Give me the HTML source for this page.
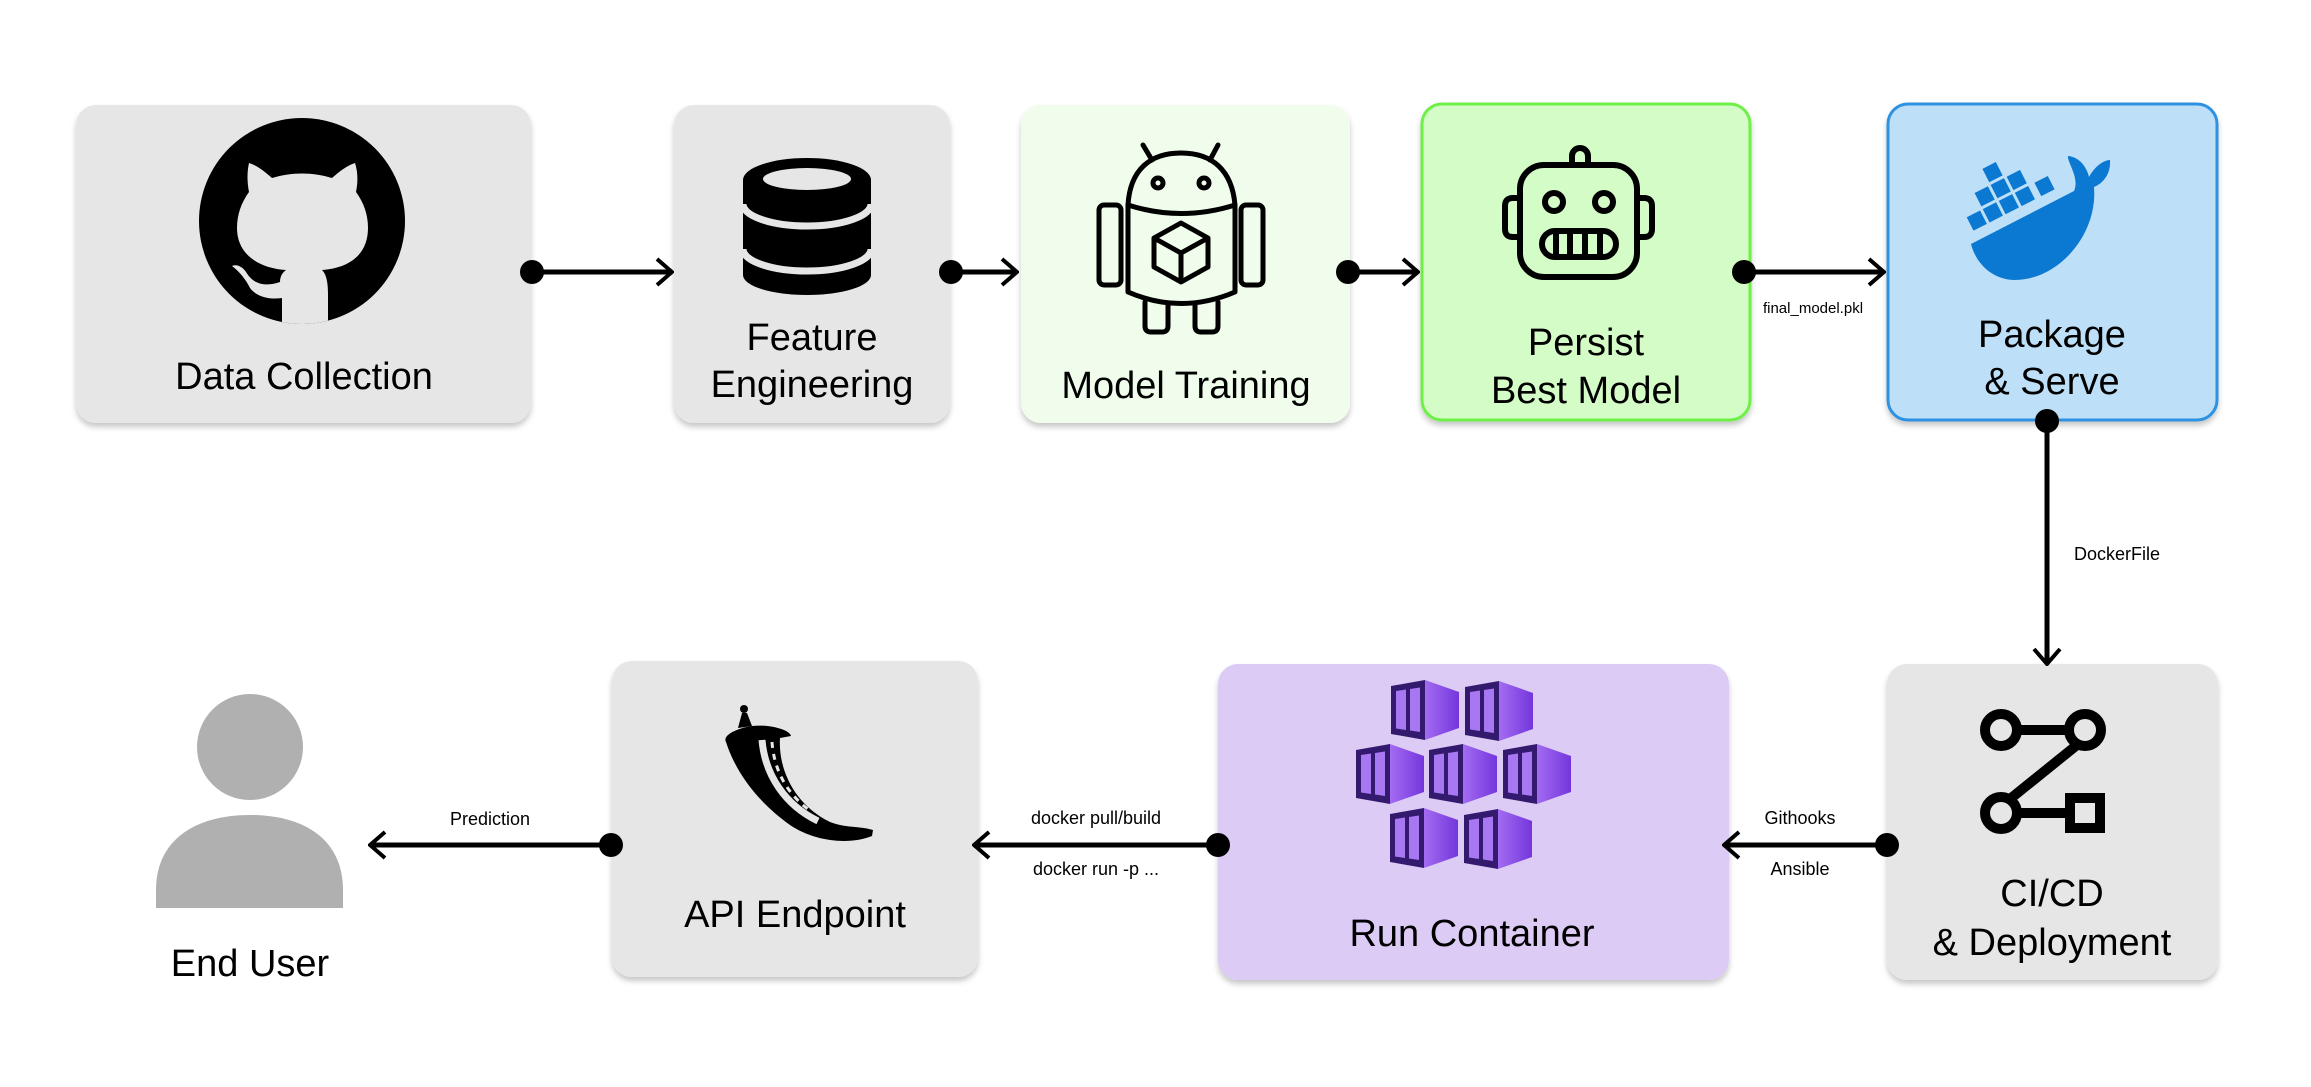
<!DOCTYPE html>
<html><head><meta charset="utf-8"><style>
html,body{margin:0;padding:0;background:#fff;}
svg{display:block;}
text{font-family:"Liberation Sans",sans-serif;}
</style></head><body>
<svg width="2311" height="1087" viewBox="0 0 2311 1087" xmlns="http://www.w3.org/2000/svg">
<defs>
<filter id="sh" x="-10%" y="-10%" width="120%" height="130%"><feDropShadow dx="0" dy="4" stdDeviation="3" flood-color="#000" flood-opacity="0.22"/></filter>
<linearGradient id="cg" x1="0" x2="1" y1="0" y2="0"><stop offset="0" stop-color="#a36cf2"/><stop offset="1" stop-color="#7436dc"/></linearGradient>
<clipPath id="ghc"><circle cx="302" cy="221" r="103"/></clipPath>
<g id="cube">
<polygon points="34,0 68,12 68,48 34,60" fill="url(#cg)"/>
<polygon points="0,6 34,0 34,60 0,54" fill="#341a6e"/>
<polygon points="5,11 15,9.5 15,50 5,48.5" fill="#a878f2"/>
<polygon points="19,9 29,7.5 29,52 19,50.5" fill="#a878f2"/>
</g>
<marker id="ah" viewBox="0 0 20 30" refX="18" refY="15" markerWidth="20" markerHeight="30" markerUnits="userSpaceOnUse" orient="auto"><path d="M3,2 L18,15 L3,28" fill="none" stroke="#000" stroke-width="4"/></marker>
</defs>

<!-- Boxes -->
<rect x="76" y="105" width="455" height="318" rx="20" fill="#e6e6e6" filter="url(#sh)"/>
<rect x="674" y="105" width="276" height="318" rx="20" fill="#e6e6e6" filter="url(#sh)"/>
<rect x="1021" y="105" width="329" height="318" rx="20" fill="#f1fdec" filter="url(#sh)"/>
<rect x="1422" y="104" width="328" height="316" rx="20" fill="#d4fcc6" stroke="#6ef048" stroke-width="3" filter="url(#sh)"/>
<rect x="1888" y="104" width="329" height="316" rx="20" fill="#bde0f8" stroke="#2f92e2" stroke-width="3" filter="url(#sh)"/>
<rect x="612" y="661" width="366" height="316" rx="20" fill="#e6e6e6" filter="url(#sh)"/>
<rect x="1218" y="664" width="511" height="316" rx="20" fill="#dccbf5" filter="url(#sh)"/>
<rect x="1887" y="664" width="331" height="316" rx="20" fill="#e6e6e6" filter="url(#sh)"/>

<!-- Labels -->
<g font-size="38" fill="#000" text-anchor="middle">
<text x="304" y="389">Data Collection</text>
<text x="812" y="350">Feature</text>
<text x="812" y="397">Engineering</text>
<text x="1186" y="398">Model Training</text>
<text x="1586" y="355">Persist</text>
<text x="1586" y="403">Best Model</text>
<text x="2052" y="347">Package</text>
<text x="2052" y="394">&amp; Serve</text>
<text x="250" y="976">End User</text>
<text x="795" y="927">API Endpoint</text>
<text x="1472" y="946">Run Container</text>
<text x="2052" y="906">CI/CD</text>
<text x="2052" y="955">&amp; Deployment</text>
</g>
<g font-size="18" fill="#000" text-anchor="middle">
<text x="1813" y="313" font-size="15">final_model.pkl</text>
<text x="2117" y="560">DockerFile</text>
<text x="1800" y="824">Githooks</text>
<text x="1800" y="875">Ansible</text>
<text x="1096" y="824">docker pull/build</text>
<text x="1096" y="875">docker run -p ...</text>
<text x="490" y="825">Prediction</text>
</g>

<!-- Connectors -->
<g stroke="#000" stroke-width="5" fill="none">
<line x1="530" y1="272" x2="672" y2="272" marker-end="url(#ah)"/>
<line x1="951" y1="272" x2="1017" y2="272" marker-end="url(#ah)"/>
<line x1="1345" y1="272" x2="1418" y2="272" marker-end="url(#ah)"/>
<line x1="1742" y1="272" x2="1884" y2="272" marker-end="url(#ah)"/>
<line x1="2047" y1="420" x2="2047" y2="664" marker-end="url(#ah)"/>
<line x1="1882" y1="845" x2="1724" y2="845" marker-end="url(#ah)"/>
<line x1="1220" y1="845" x2="974" y2="845" marker-end="url(#ah)"/>
<line x1="610" y1="845" x2="370" y2="845" marker-end="url(#ah)"/>
</g>
<g fill="#000">
<circle cx="532" cy="272" r="12"/>
<circle cx="951" cy="272" r="12"/>
<circle cx="1348" cy="272" r="12"/>
<circle cx="1744" cy="272" r="12"/>
<circle cx="2047" cy="421" r="12"/>
<circle cx="1887" cy="845" r="12"/>
<circle cx="1218" cy="845" r="12"/>
<circle cx="611" cy="845" r="12"/>
</g>

<!-- GitHub -->
<circle cx="302" cy="221" r="103" fill="#000"/>
<g clip-path="url(#ghc)" fill="#e6e6e6">
<path d="M249,163 C258,166 265,172 272,178 C292,172 312,172 332,178 C339,172 346,166 355,163 C358,172 358,182 356,192 C364,203 368,215 368,228 C368,254 350,268 322,270 C327,275 328,284 328,295 L328,326 L282,326 L282,298 C268,300 256,296 250,288 C246,280 240,272 232,266 C236,264 242,266 246,272 C252,282 262,288 280,282 C280,276 283,272 286,270 C258,268 237,254 237,228 C237,215 241,203 249,192 C247,182 247,172 249,163 Z"/>
</g>

<!-- Database -->
<g fill="#000">
<ellipse cx="807" cy="180" rx="64" ry="22"/>
<rect x="743" y="180" width="128" height="95"/>
<ellipse cx="807" cy="275" rx="64" ry="20"/>
</g>
<path d="M743,204 A64,22 0 0 0 871,204" stroke="#e6e6e6" stroke-width="7" fill="none"/>
<path d="M743,249 A64,22 0 0 0 871,249" stroke="#e6e6e6" stroke-width="7" fill="none"/>
<ellipse cx="807" cy="179" rx="44" ry="11" fill="#e6e6e6"/>

<!-- Android -->
<g fill="none" stroke="#000" stroke-width="5" stroke-linejoin="round" stroke-linecap="round">
<path d="M1128,205 C1130,170 1150,153 1181,153 C1212,153 1232,170 1235,205"/>
<line x1="1143" y1="145" x2="1152" y2="160"/><line x1="1218" y1="145" x2="1210" y2="160"/>
<path d="M1128,205 Q1181,222 1235,205 L1235,292 Q1181,315 1128,292 Z"/>
<rect x="1099" y="205" width="22" height="80" rx="5"/>
<rect x="1241" y="205" width="22" height="80" rx="5"/>
<path d="M1145,302 L1145,326 Q1145,332 1151,332 L1162,332 Q1168,332 1168,326 L1168,305"/>
<path d="M1195,305 L1195,326 Q1195,332 1201,332 L1212,332 Q1218,332 1218,326 L1218,302"/>
<circle cx="1158" cy="183" r="5"/><circle cx="1204" cy="183" r="5"/>
<path d="M1181,223 L1208,238 L1208,267 L1181,282 L1154,267 L1154,238 Z M1154,238 L1181,253 L1208,238 M1181,253 L1181,282"/>
</g>

<!-- Robot -->
<g fill="none" stroke="#000" stroke-width="6">
<rect x="1520" y="165" width="117" height="112" rx="24"/>
<path d="M1572,165 L1572,156 A8,8 0 0 1 1588,156 L1588,165"/>
<circle cx="1554" cy="202" r="9"/><circle cx="1604" cy="202" r="9"/>
<rect x="1542" y="231" width="74" height="26" rx="13"/>
<path d="M1556,231 V257 M1570,231 V257 M1585,231 V257 M1600,231 V257"/>
<path d="M1520,198 L1513,198 Q1505,198 1505,206 L1505,229 Q1505,237 1513,237 L1520,237"/>
<path d="M1637,198 L1644,198 Q1652,198 1652,206 L1652,229 Q1652,237 1644,237 L1637,237"/>
</g>

<!-- Docker -->
<g fill="#0b78d2">
<path d="M1971,244 L2074,191 C2080,178 2067,162 2068,156 C2080,157 2087,168 2089,177 C2095,166 2104,160 2110,160 C2111,175 2102,184 2094,187 C2098,235 2058,280 2015,280 C1993,280 1976,264 1971,244 Z"/>
<g transform="translate(1974,236) rotate(-27)">
<rect x="2" y="-20" width="15" height="15"/><rect x="20" y="-20" width="15" height="15"/><rect x="38" y="-20" width="15" height="15"/><rect x="56" y="-20" width="15" height="15"/><rect x="78" y="-20" width="15" height="15"/>
<rect x="20" y="-38" width="15" height="15"/><rect x="38" y="-38" width="15" height="15"/><rect x="56" y="-38" width="15" height="15"/>
<rect x="38" y="-56" width="15" height="15"/>
</g>
</g>

<!-- Flask horn -->
<g>
<path d="M726,742 C722,735 738,728 752,726 C770,724 790,730 791,736 L780,738 C778,770 795,805 830,822 C845,828 860,826 873,830 L872,836 C850,845 815,842 790,825 C755,800 735,770 726,742 Z" fill="#000"/>
<path d="M762,740 C765,775 785,805 818,821" stroke="#e6e6e6" stroke-width="7" fill="none"/>
<path d="M772,742 C774,770 787,795 812,812" stroke="#e6e6e6" stroke-width="3" fill="none" stroke-dasharray="6 6"/>
<path d="M738,728 L742,713 L747,713 L752,726 Z" fill="#000"/>
<circle cx="744" cy="709" r="4" fill="#000"/>
</g>

<!-- Kubernetes cubes -->
<use href="#cube" x="1391" y="680"/><use href="#cube" x="1465" y="681"/>
<use href="#cube" x="1356" y="744"/><use href="#cube" x="1429" y="744"/><use href="#cube" x="1503" y="744"/>
<use href="#cube" x="1390" y="808"/><use href="#cube" x="1464" y="809"/>

<!-- CI/CD -->
<g fill="none" stroke="#000" stroke-width="10">
<circle cx="2001" cy="730" r="16"/><circle cx="2085" cy="730" r="16"/><circle cx="2001" cy="813" r="16"/>
<rect x="2070" y="798" width="30" height="30"/>
<line x1="2017" y1="730" x2="2069" y2="730"/>
<line x1="2077" y1="745" x2="2010" y2="799"/>
<line x1="2017" y1="813" x2="2065" y2="813"/>
</g>

<!-- End user -->
<circle cx="250" cy="747" r="53" fill="#b0b0b0"/>
<path d="M156,908 L156,890 C156,840 195,815 250,815 C305,815 343,840 343,890 L343,908 Z" fill="#b0b0b0"/>
</svg>
</body></html>
